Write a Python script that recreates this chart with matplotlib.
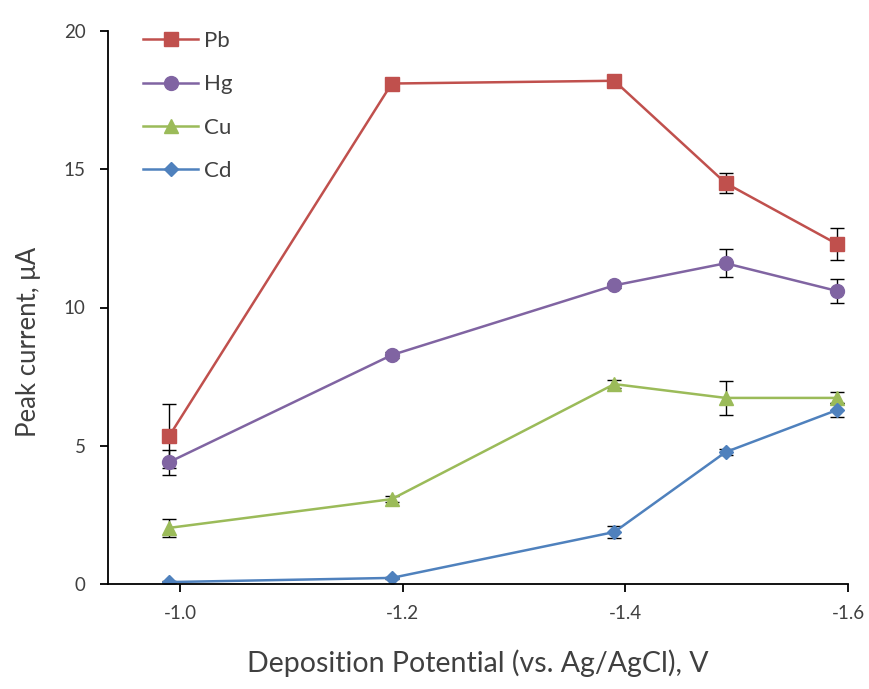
import matplotlib
matplotlib.use("Agg")
import matplotlib.pyplot as plt

plt.rcParams['font.family'] = ['Lato', 'DejaVu Sans']

# deposition potential (V)
potential = [-0.99, -1.19, -1.39, -1.49, -1.59]

pb = [5.35, 18.1, 18.2, 14.5, 12.3]
pb_err = [1.15, 0.1, 0.1, 0.35, 0.58]
hg = [4.41, 8.28, 10.8, 11.6, 10.6]
hg_err = [0.45, 0.1, 0.1, 0.5, 0.43]
cu = [2.03, 3.07, 7.23, 6.73, 6.73]
cu_err = [0.32, 0.12, 0.15, 0.61, 0.2]
cd = [0.07, 0.22, 1.88, 4.77, 6.29]
cd_err = [0.05, 0.05, 0.2, 0.1, 0.25]

fig = plt.figure(figsize=(8.69, 6.89), dpi=100)
ax = fig.add_axes([108/869, 105/689, (848-108)/869, (584-31)/689])

series = [("Pb", pb, pb_err, "#C0504D", "s"),
          ("Hg", hg, hg_err, "#8064A2", "o"),
          ("Cu", cu, cu_err, "#9BBB59", "^"),
          ("Cd", cd, cd_err, "#4F81BD", "D")]

for name, vals, err, col, mk in series:
    ax.errorbar(potential, vals, yerr=err, color=col, marker=mk, ms=10 if mk != "D" else 7.5,
                lw=1.8, ecolor="black", elinewidth=1, capsize=5, capthick=1, label=name)

ax.set_xlim(-0.935, -1.6)
ax.set_ylim(0, 20)
ax.set_xticks([-1.0, -1.2, -1.4, -1.6])
ax.set_xticklabels(["-1.0", "-1.2", "-1.4", "-1.6"])
ax.set_yticks([0, 5, 10, 15, 20])
ax.spines["top"].set_visible(False)
ax.spines["right"].set_visible(False)
ax.spines["left"].set_linewidth(1.3)
ax.spines["bottom"].set_linewidth(1.3)
ax.tick_params(axis="both", direction="out", length=6, width=1.3, labelsize=13.5, colors="black")
ax.tick_params(axis="x", pad=9, labelcolor="#404040")
ax.tick_params(axis="y", pad=10, labelcolor="#404040")

ax.set_xlabel("Deposition Potential (vs. Ag/AgCl), V", fontsize=20.5, color="#404040", labelpad=20)
ax.set_ylabel("Peak current, μA", fontsize=18.5, color="#404040")
ax.yaxis.set_label_coords(-0.09, 0.437)

handles, labels = ax.get_legend_handles_labels()
handles = [h[0] for h in handles]
leg = ax.legend(handles, labels, loc="upper left", bbox_to_anchor=(0.02, 1.036), frameon=False,
                fontsize=16, labelspacing=1.05, handlelength=2.5, handletextpad=0.25)
for t in leg.get_texts():
    t.set_color("#404040")

fig.savefig("out.png", dpi=100)
